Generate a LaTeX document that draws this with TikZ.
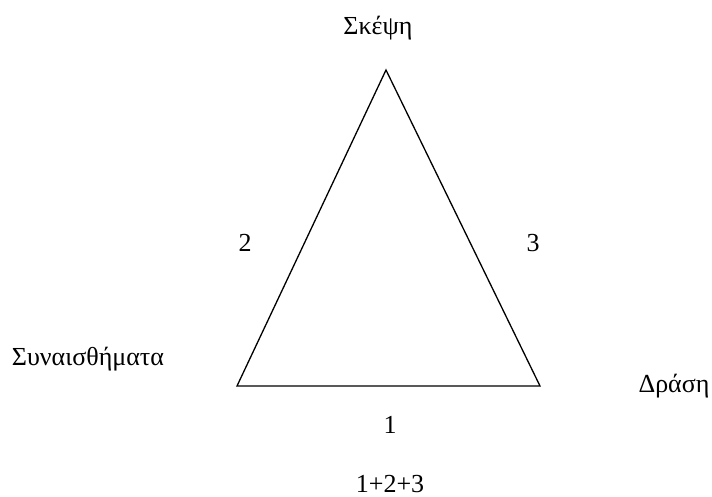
\documentclass[tikz,border=0pt]{standalone}
\usepackage{fontspec}
\setmainfont{Liberation Serif}
\begin{document}
\begin{tikzpicture}[x=1pt,y=1pt,
  lbl/.style={inner sep=0pt,font=\fontsize{26}{30}\selectfont}]
\useasboundingbox (0,0) rectangle (712,497);
\coordinate (A) at (386,427);
\coordinate (B) at (237,111);
\coordinate (C) at (540,111);
\draw[line width=1.3pt,line join=miter] (A) -- (B) -- (C) -- cycle;
\node[lbl,anchor=base] (top) at (378,462) {Σκέψη};
\node[lbl,anchor=base] (left) at (88,131) {Συναισθήματα};
\node[lbl,anchor=base] (right) at (674,104) {Δράση};
\node[lbl] (two) at (245,254) {2};
\node[lbl] (three) at (533,254) {3};
\node[lbl] (one) at (390,72) {1};
\node[lbl,anchor=base,text depth=0pt] (sum) at (390,4) {1+2+3};
\end{tikzpicture}
\end{document}
